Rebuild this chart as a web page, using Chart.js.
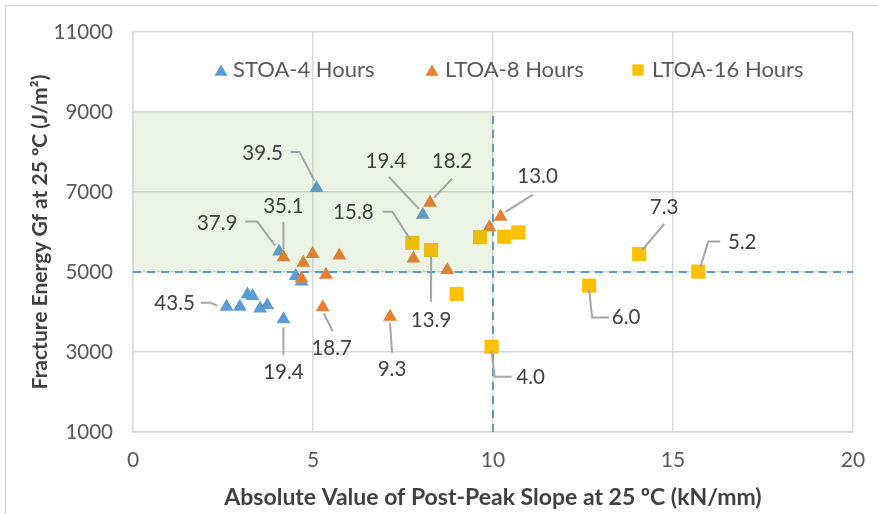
<!DOCTYPE html>
<html>
<head>
<meta charset="utf-8">
<script src="https://cdn.jsdelivr.net/npm/chart.js@4.4.1/dist/chart.umd.min.js"></script>
<style>
  html, body { margin: 0; padding: 0; background: #fff; }
  #wrap { width: 878px; height: 514px; position: relative; }
</style>
</head>
<body>
<div id="wrap"><canvas id="chart" width="878" height="514"></canvas></div>
<script>
// data
const seriesNames = ['STOA-4 Hours', 'LTOA-8 Hours', 'LTOA-16 Hours']

const stoaX = [2.60, 2.97, 3.18, 3.32, 3.53, 3.73, 4.18, 4.06, 4.52, 4.68, 5.10, 8.05]
const stoaY = [4130, 4130, 4440, 4400, 4090, 4170, 3820, 5510, 4900, 4760, 7100, 6430]
const stoaLabels = ['43.5', '', '', '', '', '', '19.4', '37.9', '', '', '39.5', '19.4']

const ltoa8X = [4.18, 4.73, 4.99, 5.73, 4.68, 5.36, 5.27, 7.14, 8.25, 7.79, 8.73, 9.90, 10.21]
const ltoa8Y = [5370, 5230, 5450, 5410, 4840, 4930, 4120, 3880, 6730, 5340, 5050, 6120, 6380]
const ltoa8Labels = ['35.1', '', '', '', '', '', '18.7', '9.3', '18.2', '', '', '', '13.0']

const ltoa16X = [7.76, 8.28, 9.64, 8.99, 10.31, 10.70, 14.06, 15.70, 12.67, 9.96]
const ltoa16Y = [5730, 5550, 5870, 4450, 5880, 5990, 5450, 5010, 4660, 3130]
const ltoa16Labels = ['15.8', '13.9', '', '', '', '', '7.3', '5.2', '6.0', '4.0']

const xTicks = [0, 5, 10, 15, 20]
const yTicks = [1000, 3000, 5000, 7000, 9000, 11000]

const xTitle = 'Absolute Value of Post-Peak Slope at 25 ºC (kN/mm)'
const yTitle = 'Fracture Energy Gf at 25 ºC (J/m²)'

// threshold box drawn on the plot
const slopeLimit = 10
const energyLimit = 5000
const energyTop = 9000

const colors = ['#5B9BD5', '#ED7D31', '#FFC000']
const FONT = "Lato, 'Open Sans', sans-serif"

// callout layout: text offset and leader path, in px relative to the point
const callouts = {
    '0-0': { t: [-52, -3], p: [[-26, -4], [-16, -4], [-9, -1]] },
    '0-6': { t: [0, 53], p: [[0, 36], [0, 8]] },
    '0-7': { t: [-62, -28], p: [[-34, -30], [-22, -30], [-4, -6]] },
    '0-10': { t: [-54, -35], p: [[-26, -36], [-17, -36], [-2, -7]] },
    '0-11': { t: [-37, -53], p: [[-34, -38], [-4, -6]] },
    '1-0': { t: [0, -51], p: [[0, -35], [0, -8]] },
    '1-6': { t: [9, 41], p: [[10, 24], [1, 6]] },
    '1-7': { t: [2, 53], p: [[2, 36], [0, 6]] },
    '1-8': { t: [22, -41], p: [[22, -24], [4, -5]] },
    '1-12': { t: [37, -40], p: [[32, -22], [5, -5]] },
    '2-0': { t: [-59, -30], p: [[-30, -31], [-20, -31], [-2, -3]] },
    '2-1': { t: [0, 70], p: [[0, 52], [0, 6]] },
    '2-6': { t: [25, -47], p: [[25, -30], [3, -4]] },
    '2-7': { t: [44, -29], p: [[22, -30], [10, -30], [2, -4]] },
    '2-8': { t: [37, 32], p: [[0, 4], [3, 32], [20, 32]] },
    '2-9': { t: [39, 31], p: [[0, 4], [3, 30], [20, 30]] }
}

const toPoints = (xs, ys) => xs.map((x, i) => ({ x: x, y: ys[i] }))
const allLabels = [stoaLabels, ltoa8Labels, ltoa16Labels]

const thresholdPlugin = {
    id: 'threshold',
    beforeDatasetsDraw(chart) {
        const { ctx, scales: { x, y } } = chart
        ctx.save()
        ctx.strokeStyle = '#5B9BD5'
        ctx.lineWidth = 2
        ctx.setLineDash([8, 6])
        ctx.beginPath()
        ctx.moveTo(x.getPixelForValue(x.min), y.getPixelForValue(energyLimit))
        ctx.lineTo(x.getPixelForValue(x.max), y.getPixelForValue(energyLimit))
        ctx.moveTo(x.getPixelForValue(slopeLimit), y.getPixelForValue(y.min))
        ctx.lineTo(x.getPixelForValue(slopeLimit), y.getPixelForValue(energyTop))
        ctx.stroke()
        ctx.restore()
    },
    afterDatasetsDraw(chart) {
        const { ctx, scales: { x, y } } = chart
        const x0 = x.getPixelForValue(x.min), x1 = x.getPixelForValue(slopeLimit)
        const y0 = y.getPixelForValue(energyTop), y1 = y.getPixelForValue(energyLimit)
        ctx.save()
        ctx.fillStyle = 'rgba(112, 173, 71, 0.14)'
        ctx.fillRect(x0, y0, x1 - x0, y1 - y0)
        ctx.restore()

        // callouts
        ctx.save()
        ctx.font = '20.5px ' + FONT
        ctx.fillStyle = '#404040'
        ctx.textAlign = 'center'
        ctx.textBaseline = 'middle'
        ctx.strokeStyle = '#A6A6A6'
        ctx.lineWidth = 2
        chart.data.datasets.forEach((ds, di) => {
            const meta = chart.getDatasetMeta(di)
            allLabels[di].forEach((txt, i) => {
                const c = callouts[di + '-' + i]
                if (!txt || !c) return
                const el = meta.data[i]
                ctx.beginPath()
                c.p.forEach((q, k) => {
                    if (k === 0) ctx.moveTo(el.x + q[0], el.y + q[1])
                    else ctx.lineTo(el.x + q[0], el.y + q[1])
                })
                ctx.stroke()
                ctx.fillText(txt, el.x + c.t[0], el.y + c.t[1])
            })
        })
        ctx.restore()
    },
    afterDraw(chart) {
        const { ctx, chartArea } = chart
        ctx.save()
        // outer frame
        ctx.strokeStyle = '#D9D9D9'
        ctx.lineWidth = 1.5
        ctx.strokeRect(5.5, 5.5, 1000, 1000)

        // y axis title
        ctx.save()
        ctx.translate(40, (chartArea.top + chartArea.bottom) / 2)
        ctx.rotate(-Math.PI / 2)
        ctx.font = 'bold 21px ' + FONT
        ctx.fillStyle = '#404040'
        ctx.textAlign = 'center'
        ctx.textBaseline = 'middle'
        ctx.fillText(yTitle, 0, 0)
        ctx.restore()

        // legend inside plot
        const lx = [[221, 233], [432, 445], [638, 652]]
        const ly = 70
        ctx.font = '22px ' + FONT
        ctx.textBaseline = 'middle'
        ctx.textAlign = 'left'
        chart.data.datasets.forEach((ds, i) => {
            ctx.fillStyle = ds.backgroundColor
            ctx.strokeStyle = ds.backgroundColor
            const isTri = ds.pointStyle === 'triangle'
            Chart.helpers.drawPoint(ctx, {
                pointStyle: ds.pointStyle,
                radius: isTri ? 7.5 : 8,
                rotation: 0,
                borderWidth: 0
            }, lx[i][0], isTri ? ly + 2 : ly)
            ctx.fillStyle = '#595959'
            ctx.fillText(ds.label, lx[i][1], ly)
        })
        ctx.restore()
    }
}

new Chart(document.getElementById('chart'), {
    type: 'scatter',
    data: {
        datasets: [
            {
                label: seriesNames[0],
                data: toPoints(stoaX, stoaY),
                pointStyle: 'triangle',
                pointRadius: 8,
                backgroundColor: colors[0],
                borderColor: colors[0],
                borderWidth: 0,
                order: 2
            },
            {
                label: seriesNames[1],
                data: toPoints(ltoa8X, ltoa8Y),
                pointStyle: 'triangle',
                pointRadius: 8,
                backgroundColor: colors[1],
                borderColor: colors[1],
                borderWidth: 0,
                order: 1
            },
            {
                label: seriesNames[2],
                data: toPoints(ltoa16X, ltoa16Y),
                pointStyle: 'rect',
                pointRadius: 10,
                backgroundColor: colors[2],
                borderColor: colors[2],
                borderWidth: 0,
                order: 0
            }
        ]
    },
    options: {
        responsive: false,
        animation: false,
        devicePixelRatio: 1,
        layout: { padding: { left: 0, right: 25, top: 32, bottom: 0 } },
        plugins: {
            legend: { display: false },
            tooltip: { enabled: false }
        },
        scales: {
            x: {
                type: 'linear',
                min: xTicks[0],
                max: xTicks[xTicks.length - 1],
                afterBuildTicks: (s) => { s.ticks = xTicks.map(v => ({ value: v })) },
                afterFit: (s) => { s.height = 82; s.paddingLeft = 0; s.paddingRight = 0 },
                grid: { color: '#D9D9D9', lineWidth: 1.5, drawTicks: false },
                border: { color: '#D9D9D9', width: 1.5 },
                ticks: { color: '#595959', padding: 16, font: { family: FONT, size: 21 } },
                title: {
                    display: true,
                    text: xTitle,
                    color: '#404040',
                    font: { family: FONT, size: 23, weight: 'bold' },
                    padding: { top: 0, bottom: 3 }
                }
            },
            y: {
                type: 'linear',
                min: yTicks[0],
                max: yTicks[yTicks.length - 1],
                afterBuildTicks: (s) => { s.ticks = yTicks.map(v => ({ value: v })) },
                afterFit: (s) => { s.width = 133; s.paddingTop = 0; s.paddingBottom = 0 },
                grid: { color: '#D9D9D9', lineWidth: 1.5, drawTicks: false },
                border: { color: '#D9D9D9', width: 1.5 },
                ticks: {
                    color: '#595959',
                    padding: 20,
                    font: { family: FONT, size: 20.5 },
                    callback: (v) => String(v)
                }
            }
        }
    },
    plugins: [thresholdPlugin]
})
</script>
</body>
</html>
